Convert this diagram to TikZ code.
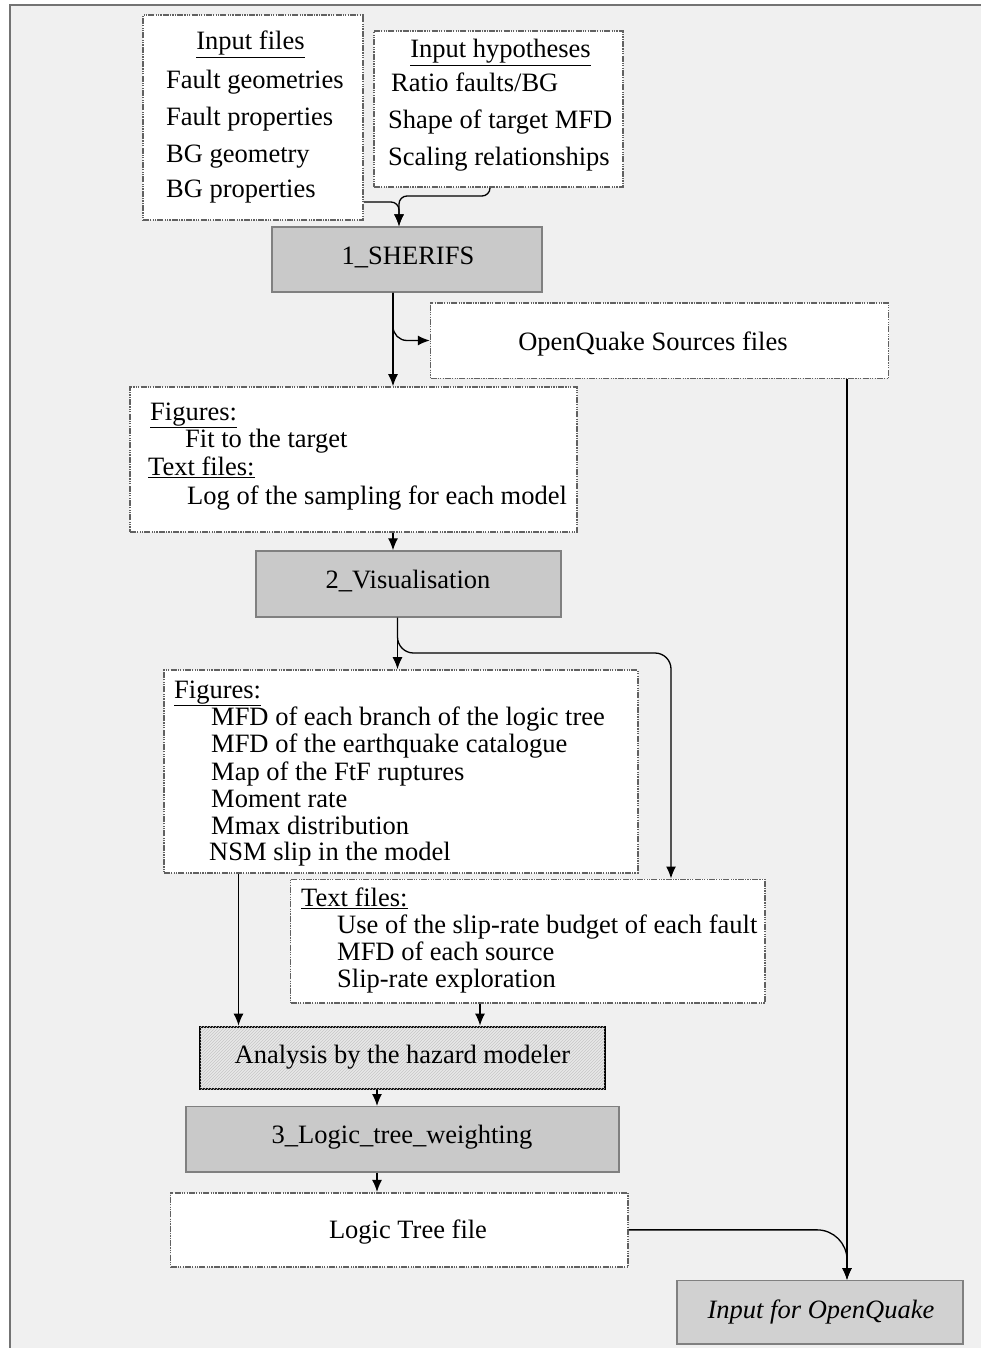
\documentclass[tikz,border=0pt]{standalone}
\usepackage{fontspec}
\setmainfont{Liberation Serif}
\usetikzlibrary{arrows.meta,patterns}
\newcommand\dfont{\fontsize{26.5}{30}\selectfont}
\begin{document}
\begin{tikzpicture}[x=1pt,y=-1pt,
  wbox/.style={rectangle, draw=black!62, line width=1.6pt, fill=white, inner sep=0pt,
    dash pattern=on 6pt off 1.2pt on 1.2pt off 1.2pt on 1.2pt off 1.2pt on 1.2pt off 1.2pt},
  gbox/.style={rectangle, draw=black!50, line width=1.4pt, fill=black!21, inner sep=0pt},
  abox/.style={rectangle, draw=black, line width=2.2pt, fill=black!9, inner sep=0pt,
    postaction={pattern=north east lines, pattern color=black!22}},
  lbl/.style={inner sep=0pt, font=\dfont, anchor=base west},
  clbl/.style={inner sep=0pt, font=\dfont, anchor=base},
  arr/.style={draw=black, line width=1.3pt, -{Latex[length=12pt,width=10pt]}},
]
\useasboundingbox (0,0) rectangle (981,1348);
\fill[white] (0,0) rectangle (981,1348);
\filldraw[fill=black!6, draw=black!55, line width=1.5pt] (10,5) rectangle (1000,1370);

% boxes
\node[wbox, minimum width=220pt, minimum height=205pt] (inpfiles) at (253,117.5) {};
\node[wbox, minimum width=249pt, minimum height=156pt] (hyp) at (498.5,109) {};
\node[gbox, minimum width=270pt, minimum height=65pt] (sherifs) at (407,259.5) {};
\node[wbox, minimum width=458pt, minimum height=75.6pt] (oqsrc) at (659.6,340.5) {};
\node[wbox, minimum width=447pt, minimum height=145pt] (fig1) at (353.5,459.5) {};
\node[gbox, minimum width=305pt, minimum height=66pt] (vis) at (408.5,584) {};
\node[wbox, minimum width=473.7pt, minimum height=202.7pt] (fig2) at (400.85,771.35) {};
\node[wbox, minimum width=474.5pt, minimum height=123.4pt] (text2) at (527.75,941) {};
\node[abox, minimum width=404.6pt, minimum height=62.3pt] (ana) at (402.3,1057.85) {};
\node[gbox, minimum width=433pt, minimum height=65.3pt] (logic) at (402.5,1139.35) {};
\node[wbox, minimum width=457.5pt, minimum height=74.3pt] (ltfile) at (399.25,1229.85) {};
\node[gbox, fill=black!18, minimum width=286pt, minimum height=63.3pt] (inoq) at (820,1312.35) {};

% texts
\node[clbl] (t01) at (250.5,50) {\underline{Input files}};
\node[lbl] (t02) at (166,89) {Fault geometries};
\node[lbl] (t03) at (166,126) {Fault properties};
\node[lbl] (t04) at (166,163) {BG geometry};
\node[lbl] (t05) at (166,198) {BG properties};
\node[clbl] (t06) at (500.5,58) {\underline{Input hypotheses}};
\node[lbl] (t07) at (391,92) {Ratio faults/BG};
\node[lbl] (t08) at (388,129) {Shape of target MFD};
\node[lbl] (t09) at (388,166) {Scaling relationships};
\node[clbl] (t10) at (408,265) {1\_SHERIFS};
\node[clbl] (t11) at (653,350) {OpenQuake Sources files};
\node[lbl] (t12) at (150,420) {\underline{Figures:}};
\node[lbl] (t13) at (185,447) {Fit to the target};
\node[lbl] (t14) at (148,475) {\underline{Text files:}};
\node[lbl] (t15) at (187,504) {Log of the sampling for each model};
\node[clbl] (t16) at (408,588) {2\_Visualisation};
\node[lbl] (t17) at (174,698) {\underline{Figures:}};
\node[lbl] (t18) at (211,725) {MFD of each branch of the logic tree};
\node[lbl] (t19) at (211,752) {MFD of the earthquake catalogue};
\node[lbl] (t20) at (211,780) {Map of the FtF ruptures};
\node[lbl] (t21) at (211,807) {Moment rate};
\node[lbl] (t22) at (211,834) {Mmax distribution};
\node[lbl] (t23) at (209,860) {NSM slip in the model};
\node[lbl] (t24) at (301,906) {\underline{Text files:}};
\node[lbl] (t25) at (337,933) {Use of the slip-rate budget of each fault};
\node[lbl] (t26) at (337,960) {MFD of each source};
\node[lbl] (t27) at (337,987) {Slip-rate exploration};
\node[clbl] (t28) at (402.5,1063) {Analysis by the hazard modeler};
\node[clbl] (t29) at (402,1143) {3\_Logic\_tree\_weighting};
\node[clbl] (t30) at (408,1238) {Logic Tree file};
\node[clbl] (t31) at (821,1318) {\itshape Input for OpenQuake};

% junction coordinates
\coordinate (jA) at (399,202);
\coordinate (jB) at (490,196);
\coordinate (jC) at (393,320);
\coordinate (jD) at (847,0);
\coordinate (jE) at (397.5,653);
\coordinate (jF) at (671,653);
\coordinate (jG) at (238.5,0);
\coordinate (jH) at (480,0);
\coordinate (jI) at (377,0);

% connectors
\draw[arr, rounded corners=8pt] (inpfiles.east |- jA) -| (sherifs.north -| jA);
\draw[arr, rounded corners=8pt] (hyp.south -| jB) -- (jB) -| (sherifs.north -| jA);
\draw[arr] (sherifs.south -| jC) -- (fig1.north -| jC);
\draw[arr, rounded corners=14pt] (sherifs.south -| jC) |- (oqsrc.west);
\draw[arr] (oqsrc.south -| jD) -- (inoq.north -| jD);
\draw[arr] (fig1.south -| jC) -- (vis.north -| jC);
\draw[arr] (vis.south -| jE) -- (fig2.north -| jE);
\draw[arr, rounded corners=16pt] (vis.south -| jE) |- (jF) -- (text2.north -| jF);
\draw[arr] (fig2.south -| jG) -- (ana.north -| jG);
\draw[arr] (text2.south -| jH) -- (ana.north -| jH);
\draw[arr] (ana.south -| jI) -- (logic.north -| jI);
\draw[arr] (logic.south -| jI) -- (ltfile.north -| jI);
\draw[arr, rounded corners=30pt] (ltfile.east) -| (inoq.north -| jD);
\end{tikzpicture}
\end{document}
